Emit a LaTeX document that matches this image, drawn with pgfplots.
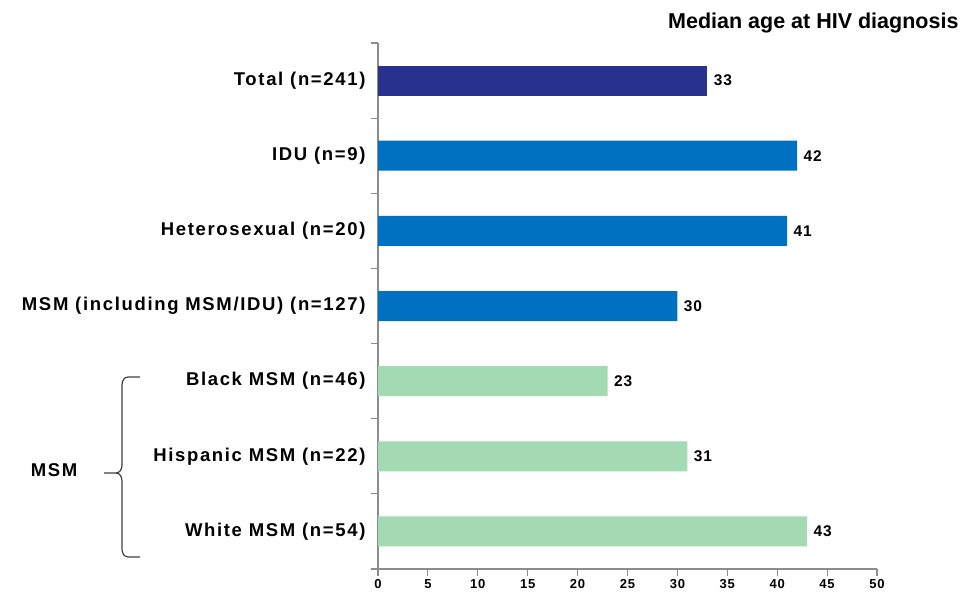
\documentclass[border=0pt]{standalone}
\usepackage{fontspec}
\setmainfont{Liberation Sans}
\newfontfamily\spaced[LetterSpace=9]{Liberation Sans}
\newfontfamily\spacedsm[LetterSpace=6]{Liberation Sans}
\usepackage{pgfplots}
\pgfplotsset{compat=1.18}
\definecolor{navy}{RGB}{38,50,142}
\definecolor{midblue}{RGB}{0,112,192}
\definecolor{mint}{RGB}{163,218,180}
\definecolor{axgray}{RGB}{140,140,140}
\begin{document}
\begin{tikzpicture}[x=1pt,y=1pt]
\useasboundingbox (0,0) rectangle (967,597);
\begin{axis}[
  at={(378pt,28pt)}, anchor=south west,
  scale only axis, width=499pt, height=526pt,
  xmin=0, xmax=50, ymin=-0.5, ymax=6.5, y dir=reverse,
  axis x line*=bottom, axis y line*=left,
  axis line style={axgray, line width=1.1pt},
  every tick/.style={axgray, line width=1.1pt},
  tick align=outside, major tick length=7pt,
  xtick={0,5,...,50},
  ytick={-0.5,0.5,...,6.5}, yticklabels={},
  extra y ticks={0,1,2,3,4,5,6},
  extra y tick labels={Total (n=241),IDU (n=9),Heterosexual (n=20),MSM (including MSM/IDU) (n=127),Black MSM (n=46),Hispanic MSM (n=22),White MSM (n=54)},
  extra y tick style={major tick length=0pt, tick label style={font=\spaced\bfseries\fontsize{18.5}{18.5}\selectfont, xshift=-9pt}},
  /pgf/number format/assume math mode=true,
  x tick label style={font=\spacedsm\bfseries\fontsize{13}{13}\selectfont, text=black},
  xbar, bar width=30pt, bar shift=0pt,
  nodes near coords, point meta=x,
  every node near coord/.append style={font=\spacedsm\bfseries\fontsize{15.5}{15.5}\selectfont, anchor=west, xshift=3pt, text=black},
  clip=false,
]
\addplot[fill=navy, draw=none] coordinates {(33,0)};
\addplot[fill=midblue, draw=none] coordinates {(42,1) (41,2) (30,3)};
\addplot[fill=mint, draw=none] coordinates {(23,4) (31,5) (43,6)};
\end{axis}
\node[anchor=east, font=\bfseries\fontsize{21.5}{21.5}\selectfont] at (962,574) {Median age at HIV diagnosis};
\draw[black!75, line width=1.2pt] (140,220) -- (128,220) to[out=180,in=90] (122,212) -- (122,132) to[out=-90,in=0] (116,124) -- (104,124);
\draw[black!75, line width=1.2pt] (116,124) to[out=0,in=90] (122,116) -- (122,48) to[out=-90,in=180] (128,40) -- (140,40);
\node[font=\spaced\bfseries\fontsize{18.5}{18.5}\selectfont] at (54,127) {MSM};
\end{tikzpicture}
\end{document}
